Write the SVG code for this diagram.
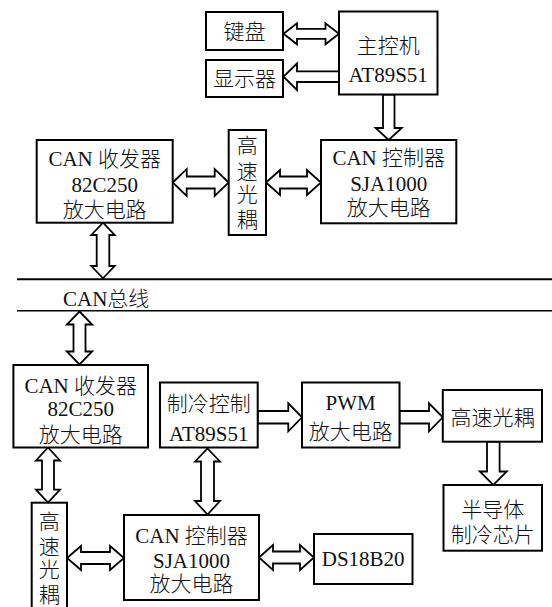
<svg xmlns="http://www.w3.org/2000/svg" width="552" height="607" viewBox="0 0 552 607">
<style>
.box{fill:#fff;stroke:#000;stroke-width:2}
.arr{fill:#fff;stroke:#000;stroke-width:1.8;stroke-linejoin:miter}
.bus{stroke:#000;fill:none}
text{font-family:"Liberation Serif","Noto Sans CJK SC",serif;font-size:21px;font-weight:300;fill:#111;text-anchor:middle}
</style>
<rect width="552" height="607" fill="#fff"/>

<g id="connectors">
  <!-- keyboard <-> main -->
  <path class="arr" d="M283.5,33.8 L297,23.3 L297,28.8 L325.5,28.8 L325.5,23.3 L339,33.8 L325.5,44.3 L325.5,38.8 L297,38.8 L297,44.3 Z"/>
  <!-- main -> display -->
  <path class="arr" d="M283.5,76.7 L297,63.5 L297,71.4 L339,71.4 L339,82 L297,82 L297,90 Z"/>
  <!-- main -> CAN controller (top) -->
  <path class="arr" d="M383,94.5 L394.5,94.5 L394.5,128 L401.8,128 L388.7,140 L375.6,128 L383,128 Z"/>
  <!-- transceiver <-> optocoupler (top) -->
  <path class="arr" d="M172.7,182.5 L186.7,169 L186.7,176.5 L214.7,176.5 L214.7,169 L228.7,182.5 L214.7,196 L214.7,188.5 L186.7,188.5 L186.7,196 Z"/>
  <!-- optocoupler <-> controller (top) -->
  <path class="arr" d="M266,182.5 L280,170 L280,176.5 L307,176.5 L307,170 L321,182.5 L307,195 L307,188.5 L280,188.5 L280,195 Z"/>
  <!-- transceiver <-> bus -->
  <path class="arr" d="M103,222.7 L114.7,235 L109.3,235 L109.3,266 L114.7,266 L103,278.3 L91.3,266 L96.7,266 L96.7,235 L91.3,235 Z"/>
  <!-- bus lines -->
  <line class="bus" x1="17" y1="279.3" x2="552" y2="279.3" stroke-width="2"/>
  <line class="bus" x1="17" y1="310.7" x2="552" y2="310.7" stroke-width="1.5"/>
  <!-- bus <-> transceiver (bottom) -->
  <path class="arr" d="M79.5,311.5 L92.2,324.5 L85.5,324.5 L85.5,351.5 L92.2,351.5 L79.5,364.5 L66.8,351.5 L73.5,351.5 L73.5,324.5 L66.8,324.5 Z"/>
  <!-- transceiver <-> optocoupler (bottom left) -->
  <path class="arr" d="M48,447.5 L60,460.5 L54,460.5 L54,489.7 L60,489.7 L48,502.7 L36,489.7 L42,489.7 L42,460.5 L36,460.5 Z"/>
  <!-- cooling control <-> CAN controller (bottom) -->
  <path class="arr" d="M207.5,448.5 L220,461.5 L214,461.5 L214,501 L220,501 L207.5,514.5 L195,501 L201,501 L201,461.5 L195,461.5 Z"/>
  <!-- cooling control -> PWM -->
  <path class="arr" d="M257.7,411 L288.3,411 L288.3,403.3 L302,417.3 L288.3,431.3 L288.3,423.5 L257.7,423.5 Z"/>
  <!-- PWM -> optocoupler (right) -->
  <path class="arr" d="M399.5,411 L429,411 L429,403.3 L442.8,417.3 L429,431.3 L429,423.5 L399.5,423.5 Z"/>
  <!-- optocoupler -> semiconductor -->
  <path class="arr" d="M487,441.7 L499.6,441.7 L499.6,471.5 L506.8,471.5 L493.3,485 L479.8,471.5 L487,471.5 Z"/>
  <!-- optocoupler <-> CAN controller (bottom) -->
  <path class="arr" d="M67,558 L81,546 L81,552 L110,552 L110,546 L124,558 L110,570 L110,564 L81,564 L81,570 Z"/>
  <!-- CAN controller <-> DS18B20 -->
  <path class="arr" d="M259,557.5 L273,545 L273,551.5 L300,551.5 L300,545 L314,557.5 L300,570 L300,563.5 L273,563.5 L273,570 Z"/>
</g>

<g id="keyboard">
  <rect class="box" x="206" y="12" width="77" height="38"/>
  <text x="244.5" y="38.5">键盘</text>
</g>
<g id="display">
  <rect class="box" x="206" y="60" width="77" height="37"/>
  <text x="244.5" y="86">显示器</text>
</g>
<g id="main-controller">
  <rect class="box" x="339" y="11.5" width="98.5" height="83"/>
  <text x="388.2" y="53">主控机</text>
  <text x="388.2" y="81.5">AT89S51</text>
</g>
<g id="can-transceiver-top">
  <rect class="box" x="36.7" y="140" width="136" height="82.7"/>
  <text x="104.7" y="165.7">CAN 收发器</text>
  <text x="104.7" y="192.3">82C250</text>
  <text x="104.7" y="217.4">放大电路</text>
</g>
<g id="optocoupler-top">
  <rect class="box" x="228.7" y="130" width="37.3" height="105"/>
  <text x="247.3" y="153">高</text>
  <text x="247.3" y="179">速</text>
  <text x="247.3" y="202.3">光</text>
  <text x="247.3" y="227.3">耦</text>
</g>
<g id="can-controller-top">
  <rect class="box" x="321" y="140" width="135.3" height="83.3"/>
  <text x="388.7" y="165.3">CAN 控制器</text>
  <text x="388.7" y="190.6">SJA1000</text>
  <text x="388.7" y="214.6">放大电路</text>
</g>
<g id="can-bus-label">
  <text x="63" y="306" style="text-anchor:start">CAN总线</text>
</g>
<g id="can-transceiver-bottom">
  <rect class="box" x="13.4" y="365" width="134.6" height="82.5"/>
  <text x="80.7" y="392.8">CAN 收发器</text>
  <text x="80.7" y="416.3">82C250</text>
  <text x="80.7" y="442.3">放大电路</text>
</g>
<g id="cooling-control">
  <rect class="box" x="160" y="382.5" width="97.7" height="65"/>
  <text x="208.8" y="411.3">制冷控制</text>
  <text x="208.8" y="441.3">AT89S51</text>
</g>
<g id="pwm">
  <rect class="box" x="302" y="382.5" width="97.5" height="65"/>
  <text x="350.7" y="410.3">PWM</text>
  <text x="350.7" y="439.3">放大电路</text>
</g>
<g id="optocoupler-right">
  <rect class="box" x="442.8" y="390" width="99.2" height="51.7"/>
  <text x="492.4" y="425.3">高速光耦</text>
</g>
<g id="semiconductor">
  <rect class="box" x="443.5" y="485" width="98.5" height="65.7"/>
  <text x="492.7" y="517.3">半导体</text>
  <text x="492.7" y="542.3">制冷芯片</text>
</g>
<g id="optocoupler-bottom">
  <rect class="box" x="31.7" y="502.7" width="35.3" height="110"/>
  <text x="49.3" y="529">高</text>
  <text x="49.3" y="554">速</text>
  <text x="49.3" y="577.3">光</text>
  <text x="49.3" y="602.3">耦</text>
</g>
<g id="can-controller-bottom">
  <rect class="box" x="124" y="515" width="135" height="85"/>
  <text x="191.5" y="543.3">CAN 控制器</text>
  <text x="191.5" y="568">SJA1000</text>
  <text x="191.5" y="591.3">放大电路</text>
</g>
<g id="ds18b20">
  <rect class="box" x="314" y="534" width="98.5" height="50"/>
  <text x="363.2" y="566.3">DS18B20</text>
</g>
</svg>
